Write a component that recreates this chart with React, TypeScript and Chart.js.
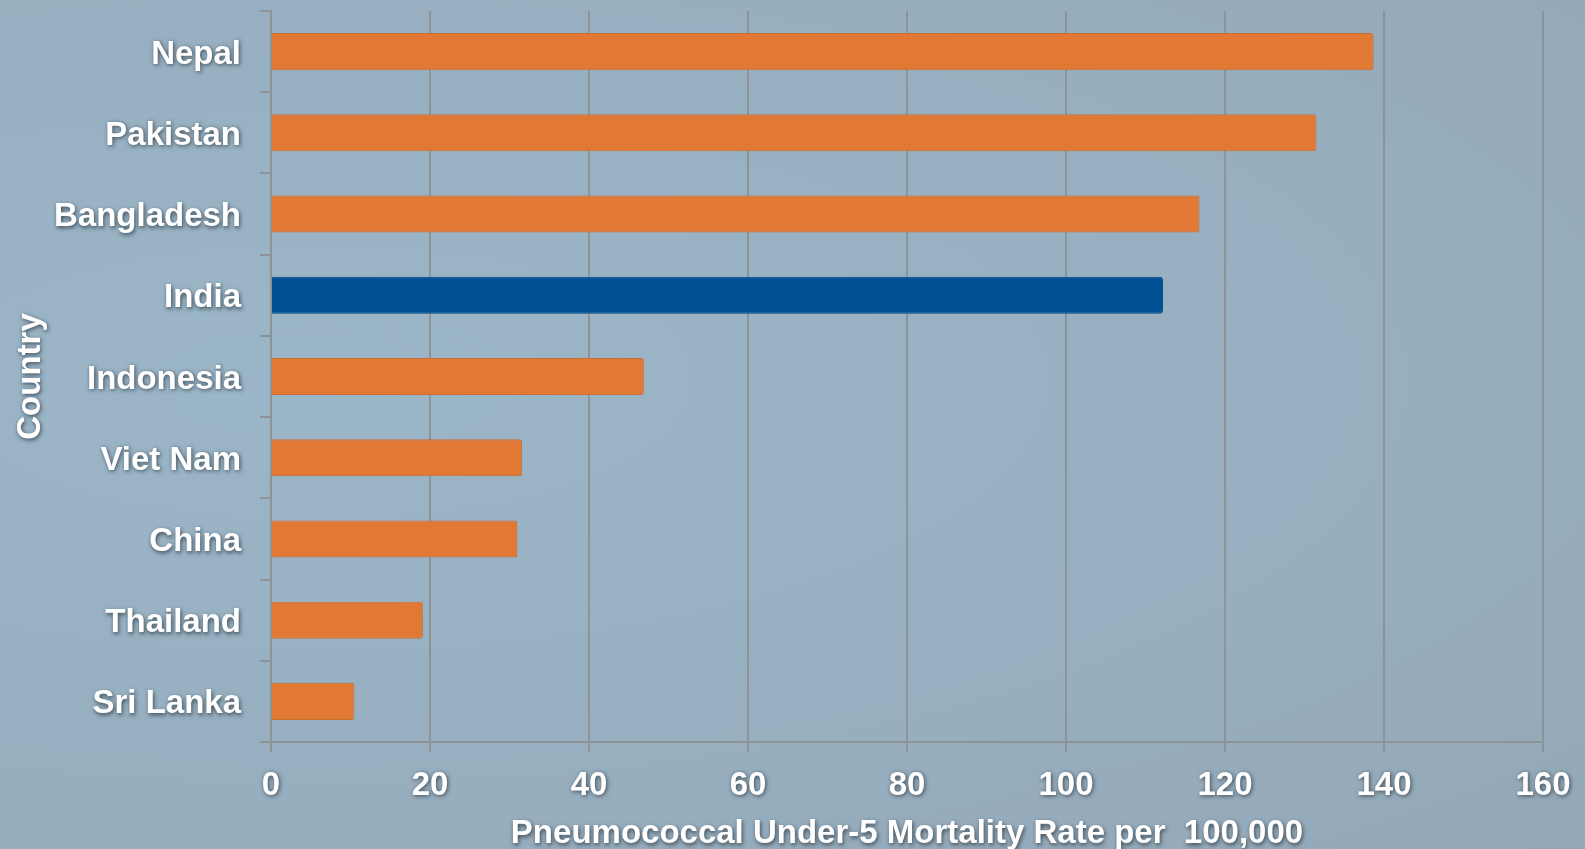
import React, { useEffect, useRef } from "react";
import { Chart, registerables, LinearScale, CategoryScale } from "chart.js";

Chart.register(...registerables);

const countries = ["Nepal", "Pakistan", "Bangladesh", "India", "Indonesia", "Viet Nam", "China", "Thailand", "Sri Lanka"];
const mortality = [138.7, 131.5, 116.8, 112.2, 46.9, 31.6, 31.0, 19.1, 10.5];
const highlight = "India";
const xTitle = "Pneumococcal Under-5 Mortality Rate per  100,000";
const yTitle = "Country";
const xMin = 0;
const xMax = 160;
const xStep = 20;

const ORANGE = "#E17834";
const BLUE = "#015294";
const GRID = "#8D9497";
const FONT = "'Liberation Sans', Arial, sans-serif";
const FSIZE = 33;

function withShadow(ctx: CanvasRenderingContext2D, fn: () => void) {
  ctx.save();
  ctx.shadowColor = "rgba(30,40,50,0.75)";
  ctx.shadowBlur = 4;
  ctx.shadowOffsetX = 1;
  ctx.shadowOffsetY = 1.5;
  fn();
  ctx.restore();
}

class ShadowLinear extends LinearScale {
  static id = "shadowLinear";
  static defaults = LinearScale.defaults;
  drawLabels(area: any) {
    withShadow(this.ctx, () => super.drawLabels(area));
  }
  drawTitle() {
    withShadow(this.ctx, () => super.drawTitle());
  }
}

class ShadowCategory extends CategoryScale {
  static id = "shadowCategory";
  static defaults = CategoryScale.defaults;
  drawLabels(area: any) {
    withShadow(this.ctx, () => super.drawLabels(area));
  }
  drawTitle() {
    withShadow(this.ctx, () => super.drawTitle());
  }
}

Chart.register(ShadowLinear as any, ShadowCategory as any);

export default function App() {
  const canvasRef = useRef<HTMLCanvasElement | null>(null);

  useEffect(() => {
    document.body.style.margin = "0";
    const canvas = canvasRef.current;
    if (!canvas) return;
    const colors = countries.map((c) => (c === highlight ? BLUE : ORANGE));
    const borders = countries.map((c) => (c === highlight ? "#0A4A80" : "#C96D31"));
    const chart = new Chart(canvas, {
      type: "bar",
      data: {
        labels: countries,
        datasets: [
          {
            data: mortality,
            backgroundColor: colors,
            borderColor: borders,
            borderWidth: 1,
            borderRadius: 3,
            borderSkipped: "start",
            barPercentage: 0.456,
            categoryPercentage: 1,
          },
        ],
      },
      options: {
        indexAxis: "y",
        animation: false,
        responsive: true,
        maintainAspectRatio: false,
        layout: { padding: { top: 11, right: 42, bottom: 0, left: 0 } },
        plugins: { legend: { display: false }, tooltip: { enabled: false } },
        scales: {
          x: {
            type: "shadowLinear" as any,
            min: xMin,
            max: xMax,
            ticks: {
              stepSize: xStep,
              color: "#FFFFFF",
              font: { family: FONT, size: FSIZE, weight: "bold" },
              padding: 14,
              maxRotation: 0,
            },
            grid: { color: GRID, lineWidth: 2, tickLength: 10, drawTicks: true },
            border: { display: true, color: GRID, width: 2 },
            title: {
              display: true,
              text: xTitle,
              color: "#FFFFFF",
              font: { family: FONT, size: FSIZE, weight: "bold" },
              padding: { top: 0, bottom: -5 },
            },
            afterFit: (scale: any) => {
              scale.height = 107;
              scale.paddingLeft = 0;
              scale.paddingRight = 0;
            },
          } as any,
          y: {
            type: "shadowCategory" as any,
            ticks: {
              color: "#FFFFFF",
              font: { family: FONT, size: FSIZE, weight: "bold" },
              padding: 19,
              labelOffset: 3,
            },
            grid: { display: true, drawOnChartArea: false, color: GRID, lineWidth: 2, tickLength: 11, offset: true },
            border: { display: true, color: GRID, width: 2 },
            title: {
              display: true,
              text: yTitle,
              color: "#FFFFFF",
              font: { family: FONT, size: FSIZE, weight: "bold" },
              padding: { top: 11, bottom: 0 },
            },
            afterFit: (scale: any) => {
              scale.width = 271;
              scale.paddingTop = 0;
              scale.paddingBottom = 0;
            },
          } as any,
        },
      },
    });
    return () => chart.destroy();
  }, []);

  return (
    <div
      style={{
        position: "fixed",
        left: 0,
        top: 0,
        width: 1585,
        height: 849,
        background: "radial-gradient(ellipse at 20% 45%, #9BB6C8 0%, #98B1C2 45%, #94A8B7 100%)",
      }}
    >
      <canvas ref={canvasRef} />
    </div>
  );
}
